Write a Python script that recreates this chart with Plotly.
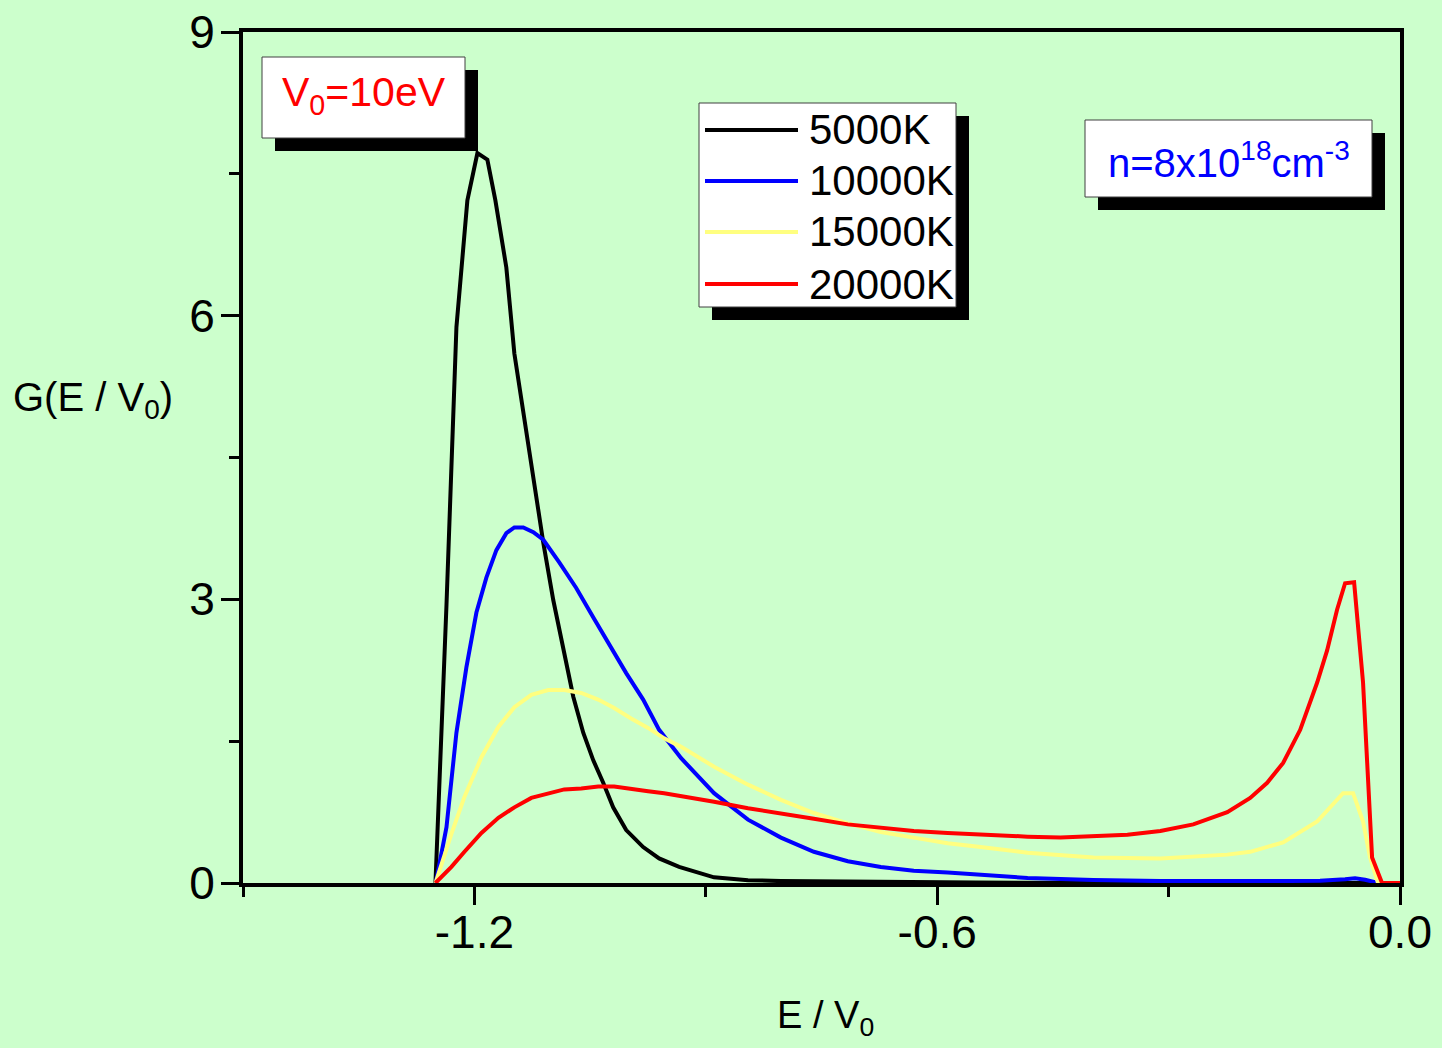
import plotly.graph_objects as go

# ---- data ----
e_5000 = [-1.2505, -1.2362, -1.2233, -1.2091, -1.1961, -1.1832, -1.1728, -1.1586, -1.1482, -1.1353,
          -1.1223, -1.1107, -1.0977, -1.0848, -1.0718, -1.0589, -1.0460, -1.0330, -1.0201, -1.0032,
          -0.9812, -0.9605, -0.9346, -0.8893, -0.8453, -0.8026, -0.70, -0.55, -0.40, -0.20, -0.03, 0.0]
g_5000 = [0.0, 2.94, 5.88, 7.22, 7.72, 7.65, 7.22, 6.51, 5.60, 4.90,
          4.19, 3.60, 2.99, 2.46, 1.97, 1.59, 1.30, 1.06, 0.80, 0.56,
          0.38, 0.26, 0.17, 0.06, 0.03, 0.02, 0.01, 0.005, 0.0, 0.0, 0.0, 0.0]

e_10000 = [-1.2501, -1.2362, -1.2233, -1.2104, -1.1974, -1.1845, -1.1715, -1.1586, -1.1482, -1.1366,
           -1.1236, -1.1107, -1.0900, -1.0680, -1.0460, -1.0252, -1.0032, -0.9812, -0.9605, -0.9320,
           -0.8893, -0.8453, -0.8026, -0.7599, -0.7159, -0.6731, -0.6304, -0.5864, -0.5437, -0.4828,
           -0.3974, -0.3107, -0.1553, -0.1036, -0.0712, -0.0583, -0.0453, -0.0285, 0.0]
g_10000 = [0.0, 0.59, 1.59, 2.28, 2.86, 3.23, 3.52, 3.70, 3.76, 3.76,
           3.71, 3.63, 3.39, 3.12, 2.81, 2.52, 2.22, 1.94, 1.62, 1.32,
           0.95, 0.67, 0.48, 0.33, 0.23, 0.17, 0.13, 0.11, 0.085, 0.053,
           0.032, 0.02, 0.02, 0.025, 0.04, 0.05, 0.035, 0.0, 0.0]

e_15000 = [-1.2505, -1.2298, -1.2129, -1.1909, -1.1689, -1.1482, -1.1262, -1.1042, -1.0835, -1.0615,
           -1.0395, -1.0188, -0.9968, -0.9748, -0.9540, -0.9320, -0.8893, -0.8453, -0.8026, -0.7599,
           -0.7159, -0.6731, -0.6304, -0.5864, -0.5437, -0.4828, -0.3974, -0.3107, -0.2239, -0.1942,
           -0.1515, -0.1074, -0.0738, -0.0608, -0.0479, -0.0388, -0.0285, 0.0]
g_15000 = [0.0, 0.52, 0.91, 1.33, 1.65, 1.86, 1.99, 2.04, 2.04, 2.01,
           1.94, 1.85, 1.74, 1.64, 1.53, 1.44, 1.23, 1.04, 0.88, 0.74,
           0.63, 0.54, 0.48, 0.42, 0.38, 0.32, 0.27, 0.26, 0.30, 0.33,
           0.43, 0.65, 0.95, 0.95, 0.65, 0.27, 0.0, 0.0]

e_20000 = [-1.2505, -1.2298, -1.2129, -1.1909, -1.1689, -1.1482, -1.1262, -1.1042, -1.0835, -1.0615,
           -1.0395, -1.0188, -0.9968, -0.9748, -0.9540, -0.9320, -0.8893, -0.8453, -0.8026, -0.7599,
           -0.7159, -0.6731, -0.6304, -0.5864, -0.5437, -0.4828, -0.4401, -0.3974, -0.3534, -0.3107,
           -0.2680, -0.2239, -0.1942, -0.1722, -0.1515, -0.1294, -0.1074, -0.0945, -0.0816, -0.0712,
           -0.0595, -0.0479, -0.0362, -0.0233, 0.0]
g_20000 = [0.0, 0.17, 0.33, 0.53, 0.69, 0.80, 0.90, 0.95, 0.99, 1.00,
           1.02, 1.02, 1.00, 0.97, 0.95, 0.92, 0.86, 0.79, 0.73, 0.68,
           0.62, 0.58, 0.55, 0.53, 0.51, 0.49, 0.48, 0.49, 0.51, 0.55,
           0.62, 0.75, 0.90, 1.06, 1.27, 1.62, 2.12, 2.46, 2.89, 3.17,
           3.18, 2.12, 0.27, 0.0, 0.0]

series_names = ["5000K", "10000K", "15000K", "20000K"]
series_colors = ["#000000", "#0000FF", "#FFFF80", "#FF0000"]
series_x = [e_5000, e_10000, e_15000, e_20000]
series_y = [g_5000, g_10000, g_15000, g_20000]

x_ticks = [-1.2, -0.6, 0.0]
x_tick_labels = ["-1.2", "-0.6", "0.0"]
y_ticks = [0, 3, 6, 9]
y_tick_labels = ["0", "3", "6", "9"]

FONT = "Arial, 'Liberation Sans', sans-serif"
BG = "#CCFFCC"

fig = go.Figure()
for name, col, xs, ys in zip(series_names, series_colors, series_x, series_y):
    fig.add_trace(go.Scatter(x=xs, y=ys, mode="lines", name=name,
                             line=dict(color=col, width=4), showlegend=False))

axis_common = dict(showline=True, linecolor="black", linewidth=4, mirror=True,
                   showgrid=False, zeroline=False, ticks="outside", ticklen=18,
                   tickwidth=3, tickcolor="black", automargin=False,
                   tickfont=dict(family=FONT, size=46, color="black"))

fig.update_xaxes(range=[-1.5, 0.0], tickmode="array", tickvals=x_ticks, ticktext=x_tick_labels,
                 minor=dict(tickmode="array", tickvals=[-1.5, -0.9, -0.3], ticklen=10,
                            tickwidth=3, tickcolor="black", ticks="outside"),
                 ticklabelstandoff=-12, **axis_common)
fig.update_yaxes(range=[0, 9], tickmode="array", tickvals=y_ticks, ticktext=y_tick_labels,
                 minor=dict(tickmode="array", tickvals=[1.5, 4.5, 7.5], ticklen=10,
                            tickwidth=3, tickcolor="black", ticks="outside"),
                 ticklabelstandoff=-3, **axis_common)

W, H = 1442, 1048
L, R, T, B = 243, 1400, 32, 883
PW, PH = R - L, B - T


def px(x):
    return (x - L) / PW


def py(y):
    return (B - y) / PH


shapes = []
annotations = []


def box(x0, y0, x1, y1, off=13):
    shapes.append(dict(type="rect", xref="paper", yref="paper",
                       x0=px(x0 + off), x1=px(x1 + off), y0=py(y1 + off), y1=py(y0 + off),
                       fillcolor="black", line=dict(width=0), layer="above"))
    shapes.append(dict(type="rect", xref="paper", yref="paper",
                       x0=px(x0), x1=px(x1), y0=py(y1), y1=py(y0),
                       fillcolor="white", line=dict(color="#404040", width=1), layer="above"))


# V0 box
box(262, 57, 465, 138)
annotations.append(dict(xref="paper", yref="paper", x=px(364), y=py(95), showarrow=False,
                        text="V<sub>0</sub>=10eV", xanchor="center", yanchor="middle",
                        font=dict(family=FONT, size=41, color="#FF0000")))

# legend box
box(699, 103, 956, 307)
leg_rows = [130, 181, 232, 284]
for name, col, ry in zip(series_names, series_colors, leg_rows):
    shapes.append(dict(type="line", xref="paper", yref="paper", x0=px(705), x1=px(798),
                       y0=py(ry), y1=py(ry), line=dict(color=col, width=4), layer="above"))
    annotations.append(dict(xref="paper", yref="paper", x=px(807), y=py(ry), showarrow=False,
                            text=name, xanchor="left", yanchor="middle",
                            font=dict(family=FONT, size=42, color="black")))

# n box
box(1085, 120, 1372, 197)
annotations.append(dict(xref="paper", yref="paper", x=px(1229), y=py(160), showarrow=False,
                        text="n=8x10<sup>18</sup>cm<sup>-3</sup>", xanchor="center", yanchor="middle",
                        font=dict(family=FONT, size=40, color="#0000FF")))

# axis titles
annotations.append(dict(xref="paper", yref="paper", x=px(11), y=py(400), showarrow=False,
                        text="G(E / V<sub>0</sub>)", xanchor="left", yanchor="middle",
                        font=dict(family=FONT, size=40, color="black")))
annotations.append(dict(xref="paper", yref="paper", x=px(825), y=py(1018), showarrow=False,
                        text="E / V<sub>0</sub>", xanchor="center", yanchor="middle",
                        font=dict(family=FONT, size=38, color="black")))

fig.update_layout(width=W, height=H, margin=dict(l=L, r=W - R, t=T, b=H - B),
                  paper_bgcolor=BG, plot_bgcolor=BG, shapes=shapes, annotations=annotations,
                  showlegend=False)

fig.write_html("out.html")
